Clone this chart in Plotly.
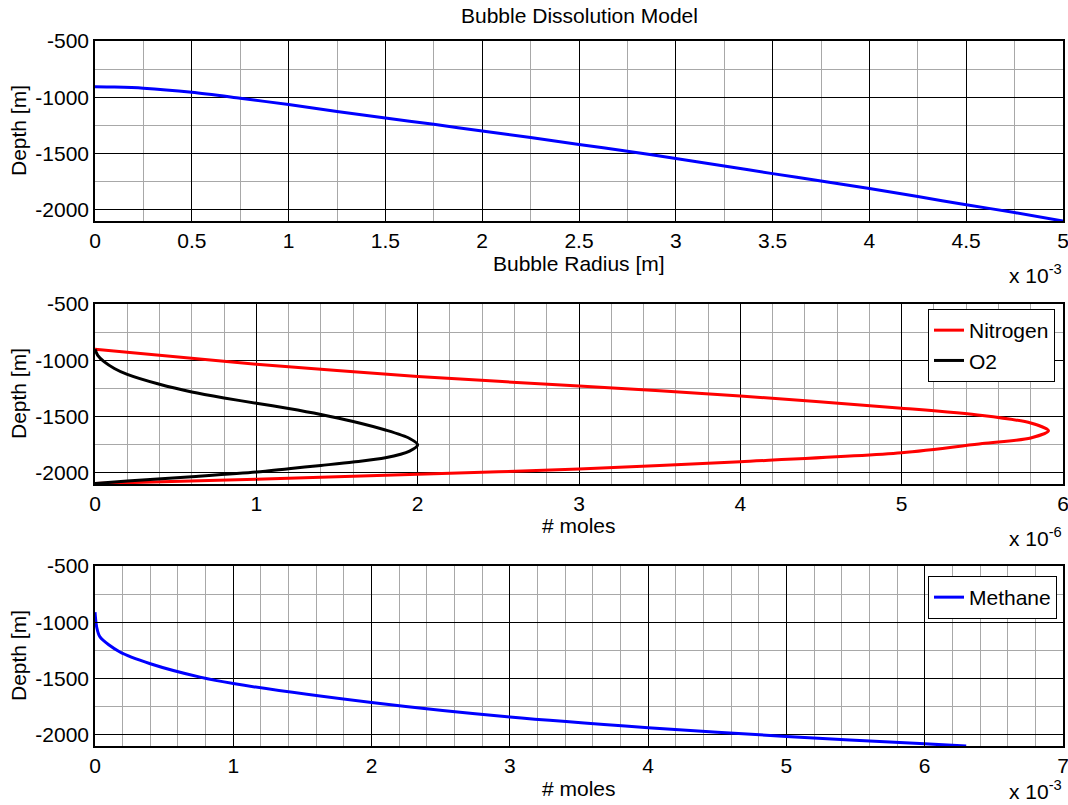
import numpy as np
import plotly.graph_objects as go

# ---------------- data ----------------
# Panel 1: bubble radius [m] vs depth [m]
radius_m = [0, 0.1e-3, 0.25e-3, 0.5e-3, 0.75e-3, 1.0e-3, 1.25e-3, 1.5e-3, 1.75e-3, 2.0e-3,
            2.25e-3, 2.5e-3, 2.75e-3, 3.0e-3, 3.25e-3, 3.5e-3, 3.75e-3, 4.0e-3,
            4.25e-3, 4.5e-3, 4.75e-3, 5.0e-3]
depth_radius = [-906, -909, -919, -956, -1009, -1065, -1126, -1185, -1241, -1300,
                -1358, -1419, -1479, -1544, -1611, -1679, -1744, -1811,
                -1883, -1955, -2025, -2100]

# Panel 2: moles of nitrogen and O2 vs depth
n2_moles = [0, 1.0e-6, 2.0e-6, 3.0e-6, 4.0e-6, 5.0e-6, 5.5e-6, 5.8e-6, 5.91e-6,
            5.8e-6, 5.5e-6, 5.0e-6, 4.0e-6, 3.0e-6, 2.0e-6, 1.0e-6, 0]
n2_depth = [-903, -1035, -1144, -1229, -1317, -1426, -1491, -1558, -1626,
            -1691, -1741, -1823, -1902, -1967, -2014, -2058, -2096]
o2_moles = [0, 0.017e-6, 0.058e-6, 0.12e-6, 0.2e-6, 0.4e-6, 0.6e-6, 0.8e-6, 1.0e-6,
            1.2e-6, 1.4e-6, 1.6e-6, 1.8e-6, 1.95e-6, 2.0e-6, 1.95e-6, 1.8e-6,
            1.6e-6, 1.4e-6, 1.2e-6, 1.0e-6, 0.6e-6, 0.2e-6, 0]
o2_depth = [-903, -956, -1015, -1073, -1126, -1214, -1282, -1335, -1382,
            -1429, -1482, -1544, -1620, -1695, -1752, -1808, -1867,
            -1905, -1935, -1964, -1994, -2035, -2073, -2096]

# Panel 3: moles of methane vs depth
ch4_moles = [0, 0.012e-3, 0.036e-3, 0.18e-3, 0.4e-3, 0.76e-3, 1.0e-3, 2.0e-3,
             3.0e-3, 4.0e-3, 5.0e-3, 6.0e-3, 6.3e-3]
ch4_depth = [-911, -1042, -1131, -1265, -1369, -1488, -1545, -1714,
             -1843, -1937, -2015, -2081, -2100]

# tick labels
x1_ticks = [0, 0.5, 1, 1.5, 2, 2.5, 3, 3.5, 4, 4.5, 5]
x2_ticks = [0, 1, 2, 3, 4, 5, 6]
x3_ticks = [0, 1, 2, 3, 4, 5, 6, 7]
y_ticks = [-2000, -1500, -1000, -500]

# ---------------- figure ----------------
FONT = "Liberation Sans, Arial, sans-serif"
FS = 21
W, H = 1068, 805
L, R = 95, 5
PW = W - L - R

def px(x):
    return (x - L) / PW

def py(y):
    return 1 - y / H

LINE = dict(width=3, shape="spline", smoothing=0.8)

fig = go.Figure()
fig.add_trace(go.Scatter(x=radius_m, y=depth_radius, mode="lines",
                         line=dict(color="#0000ff", **LINE), xaxis="x", yaxis="y",
                         showlegend=False))
fig.add_trace(go.Scatter(x=n2_moles, y=n2_depth, mode="lines", name="Nitrogen",
                         line=dict(color="#ff0000", **LINE), xaxis="x2", yaxis="y2",
                         legend="legend"))
fig.add_trace(go.Scatter(x=o2_moles, y=o2_depth, mode="lines", name="O2",
                         line=dict(color="#000000", **LINE), xaxis="x2", yaxis="y2",
                         legend="legend"))
fig.add_trace(go.Scatter(x=ch4_moles, y=ch4_depth, mode="lines", name="Methane",
                         line=dict(color="#0000ff", **LINE), xaxis="x3", yaxis="y3",
                         legend="legend2"))

def xaxis(scale, ticks, minor, anchor):
    return dict(range=[0, ticks[-1] * scale], anchor=anchor, domain=[0, 1],
                tickmode="array", tickvals=[t * scale for t in ticks],
                ticktext=[f"{t:g}" for t in ticks],
                showgrid=True, gridcolor="#000000", gridwidth=1,
                minor=dict(tickmode="linear", tick0=0, dtick=minor * scale,
                           showgrid=True, gridcolor="#a8a8a8", gridwidth=1,
                           ticks="inside", ticklen=0),
                showline=True, linecolor="#000000", linewidth=1.5, mirror="ticks",
                ticks="inside", ticklen=5, tickcolor="#000000",
                ticklabeloverflow="allow",
                zeroline=False, tickfont=dict(family=FONT, size=FS, color="#000"),
                automargin=False, fixedrange=True)

def yaxis(dom, anchor):
    return dict(range=[-2100, -500], anchor=anchor, domain=dom,
                tickmode="array", tickvals=y_ticks, ticktext=[str(t) for t in y_ticks],
                showgrid=True, gridcolor="#000000", gridwidth=1,
                minor=dict(tickmode="linear", tick0=-500, dtick=250,
                           showgrid=True, gridcolor="#a8a8a8", gridwidth=1,
                           ticks="inside", ticklen=0),
                showline=True, linecolor="#000000", linewidth=1.5, mirror="ticks",
                ticks="inside", ticklen=5, tickcolor="#000000",
                ticklabeloverflow="allow",
                zeroline=False, tickfont=dict(family=FONT, size=FS, color="#000"),
                automargin=False, fixedrange=True)

dom1 = [py(221), py(41)]
dom2 = [py(484), py(304)]
dom3 = [py(746), py(566)]

annotations = [
    dict(text="Bubble Dissolution Model", x=0.5, y=py(16)),
    dict(text="Bubble Radius [m]", x=0.5, y=py(263)),
    dict(text="# moles", x=0.5, y=py(525)),
    dict(text="# moles", x=0.5, y=py(788)),
    dict(text="Depth [m]", x=px(18), y=(dom1[0] + dom1[1]) / 2, textangle=-90),
    dict(text="Depth [m]", x=px(18), y=(dom2[0] + dom2[1]) / 2, textangle=-90),
    dict(text="Depth [m]", x=px(18), y=(dom3[0] + dom3[1]) / 2, textangle=-90),
    dict(text="x 10<sup>-3</sup>", x=px(1064), y=py(274), xanchor="right"),
    dict(text="x 10<sup>-6</sup>", x=px(1064), y=py(537), xanchor="right"),
    dict(text="x 10<sup>-3</sup>", x=px(1064), y=0.0, xanchor="right", yanchor="bottom"),
]
anns = []
for a in annotations:
    base = dict(xref="paper", yref="paper", showarrow=False, xanchor="center",
                yanchor="middle", font=dict(family=FONT, size=FS, color="#000"))
    base.update(a)
    anns.append(base)

legend_common = dict(bgcolor="#ffffff", bordercolor="#000000", borderwidth=1,
                     font=dict(family=FONT, size=FS, color="#000"),
                     xanchor="right", yanchor="top", xref="paper", yref="paper",
                     tracegroupgap=0, itemclick=False, itemdoubleclick=False)

fig.update_layout(
    width=W, height=H,
    margin=dict(l=L, r=R, t=0, b=0),
    paper_bgcolor="#ffffff", plot_bgcolor="#ffffff",
    xaxis=xaxis(1e-3, x1_ticks, 0.25, "y"),
    yaxis=yaxis(dom1, "x"),
    xaxis2=xaxis(1e-6, x2_ticks, 0.2, "y2"),
    yaxis2=yaxis(dom2, "x2"),
    xaxis3=xaxis(1e-3, x3_ticks, 0.2, "y3"),
    yaxis3=yaxis(dom3, "x3"),
    legend=dict(x=px(1055), y=py(309), **legend_common),
    legend2=dict(x=px(1057), y=py(576), **legend_common),
    annotations=anns,
    showlegend=True,
)

fig.write_html("out.html", config=dict(displayModeBar=False))
